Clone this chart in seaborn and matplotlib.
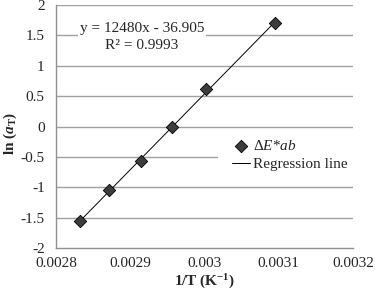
import numpy as np
import pandas as pd
import seaborn as sns
import matplotlib.pyplot as plt
from matplotlib.patches import Rectangle

# data
inv_t = [0.002832, 0.002872, 0.002914, 0.002957, 0.003002, 0.003095]
ln_at = [-1.55, -1.04, -0.57, 0.0, 0.62, 1.70]
slope = 12480
intercept = -36.905

df = pd.DataFrame({"x": inv_t, "y": ln_at})
fit = pd.DataFrame({"x": [inv_t[0], inv_t[-1]]})
fit["y"] = slope * fit["x"] + intercept

sns.set_style("white")
plt.rcParams["font.family"] = ["Liberation Serif", "DejaVu Serif"]
plt.rcParams["mathtext.fontset"] = "custom"
plt.rcParams["mathtext.rm"] = "Liberation Serif"
plt.rcParams["mathtext.it"] = "Liberation Serif:italic"
plt.rcParams["mathtext.bf"] = "Liberation Serif:bold"
plt.rcParams["mathtext.bfit"] = "Liberation Serif:bold:italic"

fig = plt.figure(figsize=(3.75, 2.97), dpi=100)
ax = fig.add_axes([0.149, 0.165, 0.792, 0.818])

for v in np.arange(-1.5, 2.01, 0.5):
    ax.axhline(v, color="#a0a0a0", lw=1.0, zorder=0)

sns.lineplot(data=fit, x="x", y="y", color="black", lw=0.7, ax=ax,
             label="Regression line", zorder=2)
sns.scatterplot(data=df, x="x", y="y", marker="D", s=40, color="#3c3c3c",
                edgecolor="black", linewidth=0.6, ax=ax,
                label="$\\Delta E$*$ab$", zorder=3)

ax.set_xlim(0.0028, 0.0032)
ax.set_ylim(-2, 2)
ax.set_xticks([0.0028, 0.0029, 0.003, 0.0031, 0.0032])
ax.set_xticklabels(["0.0028", "0.0029", "0.003", "0.0031", "0.0032"])
ax.set_yticks(np.arange(-2, 2.01, 0.5))
ax.set_yticklabels(["-2", "-1.5", "-1", "-0.5", "0", "0.5", "1", "1.5", "2"])
ax.tick_params(axis="x", direction="inout", length=7, width=0.8,
               color="#808080", labelsize=11, pad=3)
ax.tick_params(axis="y", length=0, labelsize=11, pad=8)

for s in ["top", "right"]:
    ax.spines[s].set_visible(False)
for s in ["left", "bottom"]:
    ax.spines[s].set_color("#909090")
    ax.spines[s].set_linewidth(1.0)

ax.set_xlabel("1/T (K$^{\\mathbf{-1}}$)", fontsize=11, fontweight="bold", labelpad=2)
ax.set_ylabel("ln ($\\mathbfit{a}_\\mathbf{T}$)", fontsize=11, fontweight="bold")
ax.yaxis.set_label_coords(-0.125, 0.473)

ax.text(0.002916, 1.47, "y = 12480x - 36.905\nR² = 0.9993", ha="center",
        va="center", fontsize=11, linespacing=1.4,
        bbox=dict(facecolor="white", edgecolor="none", pad=1.5), zorder=4)

# white legend area, as in the reference
ax.add_patch(Rectangle((0.545, 0.30), 0.455, 0.165, transform=ax.transAxes,
                       facecolor="white", edgecolor="none", zorder=1))

h, l = ax.get_legend_handles_labels()
leg = ax.legend(h[::-1], l[::-1], loc="upper left", bbox_to_anchor=(0.58, 0.465),
                frameon=False, fontsize=11, handlelength=1.2, handletextpad=0.2,
                borderpad=0.25, labelspacing=0.3, borderaxespad=0)

fig.savefig("out.png", dpi=100)
